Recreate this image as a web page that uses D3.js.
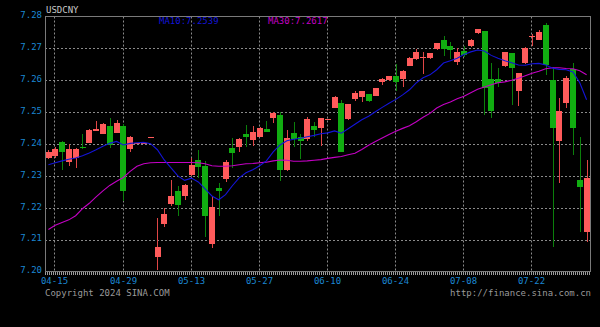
<!DOCTYPE html>
<html>
<head>
<meta charset="utf-8">
<script src="https://cdn.jsdelivr.net/npm/d3@7"></script>
<style>
  html, body { margin: 0; padding: 0; background: #000; }
  svg { display: block; }
  text { font-family: "DejaVu Sans Mono", "Liberation Mono", monospace; font-size: 9px; }
</style>
</head>
<body>
<div id="chart"></div>
<script>
// trading days shown (one candle each)
const dates = [
  "04-12",
  "04-15","04-16","04-17","04-18","04-19",
  "04-22","04-23","04-24","04-25","04-26",
  "04-29","04-30","05-01","05-02","05-03",
  "05-06","05-07","05-08","05-09","05-10",
  "05-13","05-14","05-15","05-16","05-17",
  "05-20","05-21","05-22","05-23","05-24",
  "05-27","05-28","05-29","05-30","05-31",
  "06-03","06-04","06-05","06-06","06-07",
  "06-10","06-11","06-12","06-13","06-14",
  "06-17","06-18","06-19","06-20","06-21",
  "06-24","06-25","06-26","06-27","06-28",
  "07-01","07-02","07-03","07-04","07-05",
  "07-08","07-09","07-10","07-11","07-12",
  "07-15","07-16","07-17","07-18","07-19",
  "07-22","07-23","07-24","07-25","07-26",
  "07-29","07-30","07-31","08-01"
];

const openP = [
  7.2355,
  7.2361,7.2406,7.2342,7.2356,7.2391,
  7.2403,7.2441,7.2432,7.2455,7.2436,
  7.2457,7.2384,7.2403,7.2403,7.2422,
  7.2047,7.2150,7.2211,7.2251,7.2237,
  7.2303,7.2350,7.2332,7.2087,7.2262,
  7.2290,7.2389,7.2390,7.2432,7.2413,
  7.2423,7.2447,7.2481,7.2492,7.2317,
  7.2436,7.2422,7.2416,7.2457,7.2450,
  7.2479,7.2514,7.2528,7.2479,7.2542,
  7.2546,7.2556,7.2552,7.2594,7.2601,
  7.2614,7.2604,7.2646,7.2667,7.2669,
  7.2670,7.2698,7.2727,7.2708,7.2656,
  7.2692,7.2706,7.2748,7.2753,7.2603,
  7.2603,7.2645,7.2685,7.2565,7.2654,
  7.2736,7.2727,7.2774,7.2601,7.2408,
  7.2528,7.2635,7.2288,7.2125
];
const highP = [
  7.2380,
  7.2390,7.2408,7.2400,7.2388,7.2431,
  7.2446,7.2473,7.2467,7.2481,7.2474,
  7.2462,7.2424,7.2403,7.2403,7.2422,
  7.2167,7.2199,7.2288,7.2269,7.2274,
  7.2356,7.2380,7.2347,7.2237,7.2277,
  7.2350,7.2418,7.2418,7.2460,7.2457,
  7.2452,7.2473,7.2499,7.2499,7.2444,
  7.2470,7.2430,7.2484,7.2470,7.2483,
  7.2479,7.2551,7.2539,7.2527,7.2565,
  7.2567,7.2558,7.2577,7.2608,7.2614,
  7.2651,7.2632,7.2673,7.2698,7.2690,
  7.2686,7.2718,7.2740,7.2721,7.2701,
  7.2706,7.2729,7.2762,7.2755,7.2654,
  7.2638,7.2690,7.2687,7.2624,7.2703,
  7.2745,7.2758,7.2779,7.2643,7.2544,
  7.2612,7.2654,7.2423,7.2350
];
const lowP = [
  7.2352,
  7.2355,7.2319,7.2332,7.2324,7.2384,
  7.2402,7.2440,7.2430,7.2388,7.2435,
  7.2220,7.2376,7.2403,7.2403,7.2422,
  7.2005,7.2139,7.2207,7.2175,7.2223,
  7.2300,7.2293,7.2108,7.2073,7.2175,
  7.2282,7.2324,7.2376,7.2392,7.2394,
  7.2422,7.2439,7.2467,7.2285,7.2315,
  7.2392,7.2353,7.2408,7.2422,7.2394,
  7.2479,7.2512,7.2374,7.2476,7.2535,
  7.2533,7.2533,7.2550,7.2586,7.2599,
  7.2567,7.2580,7.2644,7.2665,7.2619,
  7.2668,7.2696,7.2677,7.2666,7.2648,
  7.2674,7.2704,7.2746,7.2492,7.2481,
  7.2580,7.2643,7.2523,7.2518,7.2652,
  7.2708,7.2725,7.2617,7.2078,7.2277,
  7.2513,7.2366,7.2125,7.2094
];
const closeP = [
  7.2376,
  7.2385,7.2376,7.2384,7.2384,7.2388,
  7.2444,7.2447,7.2462,7.2397,7.2465,
  7.2251,7.2422,7.2403,7.2403,7.2422,
  7.2078,7.2181,7.2237,7.2209,7.2272,
  7.2335,7.2329,7.2175,7.2201,7.2251,
  7.2342,7.2373,7.2416,7.2422,7.2437,
  7.2450,7.2439,7.2497,7.2317,7.2418,
  7.2415,7.2408,7.2478,7.2444,7.2481,
  7.2479,7.2549,7.2376,7.2525,7.2560,
  7.2565,7.2535,7.2575,7.2604,7.2612,
  7.2594,7.2630,7.2671,7.2690,7.2674,
  7.2684,7.2716,7.2698,7.2695,7.2688,
  7.2680,7.2727,7.2760,7.2575,7.2502,
  7.2591,7.2688,7.2638,7.2622,7.2701,
  7.2740,7.2750,7.2648,7.2450,7.2502,
  7.2607,7.2450,7.2265,7.2293
];

// moving averages as drawn on the chart
const ma10 = [
  7.2335,
  7.2341,7.2347,7.2352,7.2356,7.2363,
  7.2372,7.2382,7.2393,7.2402,7.2408,
  7.2397,7.2402,7.2404,7.2405,7.2401,
  7.2382,7.2350,7.2325,7.2300,7.2286,
  7.2293,7.2281,7.2259,7.2237,7.2225,
  7.2241,7.2269,7.2294,7.2310,7.2319,
  7.2332,7.2347,7.2375,7.2397,7.2410,
  7.2415,7.2418,7.2423,7.2427,7.2432,
  7.2435,7.2441,7.2434,7.2448,7.2462,
  7.2476,7.2487,7.2501,7.2515,7.2528,
  7.2540,7.2554,7.2570,7.2592,7.2608,
  7.2617,7.2633,7.2654,7.2661,7.2669,
  7.2681,7.2689,7.2695,7.2692,7.2678,
  7.2669,7.2661,7.2655,7.2648,7.2647,
  7.2652,7.2653,7.2648,7.2638,7.2634,
  7.2633,7.2626,7.2592,7.2539
];
const ma30 = [
  7.2132,
  7.2145,7.2154,7.2162,7.2175,7.2197,
  7.2214,7.2234,7.2253,7.2270,7.2283,
  7.2295,7.2314,7.2330,7.2338,7.2341,
  7.2342,7.2342,7.2342,7.2342,7.2342,
  7.2342,7.2341,7.2338,7.2332,7.2330,
  7.2330,7.2332,7.2335,7.2338,7.2339,
  7.2341,7.2343,7.2347,7.2350,7.2349,
  7.2346,7.2346,7.2347,7.2349,7.2351,
  7.2355,7.2358,7.2361,7.2366,7.2371,
  7.2383,7.2396,7.2408,7.2419,7.2430,
  7.2440,7.2449,7.2457,7.2470,7.2484,
  7.2496,7.2513,7.2524,7.2532,7.2542,
  7.2550,7.2561,7.2572,7.2579,7.2586,
  7.2592,7.2595,7.2600,7.2606,7.2614,
  7.2622,7.2628,7.2636,7.2639,7.2639,
  7.2637,7.2636,7.2630,7.2617
];

const priceTicks = [7.20, 7.21, 7.22, 7.23, 7.24, 7.25, 7.26, 7.27, 7.28];
const dateTicks = ["04-15", "04-29", "05-13", "05-27", "06-10", "06-24", "07-08", "07-22"];

const symbol = "USDCNY";
const copyright = "Copyright 2024 SINA.COM";
const siteUrl = "http://finance.sina.com.cn";

const width = 600, height = 327;
const margin = { top: 16.5, right: 10, bottom: 55.5, left: 45 };

const upColor = "#ff5b5b", upWick = "#e04646";
const downColor = "#11ad11", downWick = "#0b7f0b";
const axisText = "#1b87d2";
const gridColor = "#8a8a8a";

const candles = dates.map((d, i) => ({
  date: d, open: openP[i], high: highP[i], low: lowP[i], close: closeP[i]
}));

const svg = d3.select("#chart").append("svg")
  .attr("width", width)
  .attr("height", height)
  .style("background", "#000");

const x = d3.scaleBand()
  .domain(dates)
  .range([margin.left, width - margin.right])
  .paddingInner(0.16)
  .paddingOuter(0.08);

const y = d3.scaleLinear()
  .domain([7.20, 7.28])
  .range([height - margin.bottom, margin.top]);

const cx = d => Math.round(x(d) + x.bandwidth() / 2) + 0.5;
const gridX = d => Math.round(x(d) + x.bandwidth() * 0.37) + 0.5;

// grid
svg.append("g")
  .selectAll("line")
  .data(priceTicks.slice(1, -1))
  .join("line")
  .attr("x1", margin.left).attr("x2", width - margin.right)
  .attr("y1", d => Math.round(y(d)) + 0.5).attr("y2", d => Math.round(y(d)) + 0.5)
  .attr("stroke", gridColor)
  .attr("stroke-dasharray", "2,2");

svg.append("g")
  .selectAll("line")
  .data(dateTicks)
  .join("line")
  .attr("x1", gridX).attr("x2", gridX)
  .attr("y1", margin.top).attr("y2", height - margin.bottom)
  .attr("stroke", gridColor)
  .attr("stroke-dasharray", "2,2");

// frame
svg.append("rect")
  .attr("x", margin.left + 0.5)
  .attr("y", margin.top)
  .attr("width", width - margin.left - margin.right)
  .attr("height", height - margin.top - margin.bottom)
  .attr("fill", "none")
  .attr("stroke", "#7a7a7a");

// ruler under the bottom edge
svg.append("line")
  .attr("x1", margin.left).attr("x2", width - margin.right)
  .attr("y1", height - margin.bottom + 2).attr("y2", height - margin.bottom + 2)
  .attr("stroke", "#9a9a9a")
  .attr("stroke-width", 3)
  .attr("stroke-dasharray", "1,1");

// candles
const g = svg.append("g").attr("shape-rendering", "crispEdges");

g.selectAll("line.wick")
  .data(candles)
  .join("line")
  .attr("class", "wick")
  .attr("x1", d => cx(d.date)).attr("x2", d => cx(d.date))
  .attr("y1", d => y(d.high)).attr("y2", d => y(d.low))
  .attr("stroke", d => d.close >= d.open ? upWick : downWick);

g.selectAll("rect.body")
  .data(candles)
  .join("rect")
  .attr("class", "body")
  .attr("x", d => Math.round(x(d.date)))
  .attr("width", Math.round(x.bandwidth()))
  .attr("y", d => y(Math.max(d.open, d.close)))
  .attr("height", d => Math.max(1, y(Math.min(d.open, d.close)) - y(Math.max(d.open, d.close))))
  .attr("fill", d => d.close >= d.open ? upColor : downColor);

// moving averages
const line = d3.line()
  .x((d, i) => x(dates[i]) + x.bandwidth() / 2)
  .y(d => y(d));

svg.append("path")
  .datum(ma30)
  .attr("d", line)
  .attr("fill", "none")
  .attr("stroke", "#c400c4")
  .attr("stroke-width", 1.1);

svg.append("path")
  .datum(ma10)
  .attr("d", line)
  .attr("fill", "none")
  .attr("stroke", "#1414d8")
  .attr("stroke-width", 1.1);

// axis labels
svg.append("g")
  .selectAll("text")
  .data(priceTicks)
  .join("text")
  .attr("x", margin.left - 3)
  .attr("y", d => y(d) + 1.8)
  .attr("text-anchor", "end")
  .attr("fill", axisText)
  .text(d => d.toFixed(2));

svg.append("g")
  .selectAll("text")
  .data(dateTicks)
  .join("text")
  .attr("x", gridX)
  .attr("y", height - margin.bottom + 12.5)
  .attr("text-anchor", "middle")
  .attr("fill", axisText)
  .text(d => d);

// title and legend
svg.append("text")
  .attr("x", margin.left + 1)
  .attr("y", 13)
  .attr("fill", "#c8c8c8")
  .text(symbol);

svg.append("text")
  .attr("x", 159)
  .attr("y", 24)
  .attr("fill", "#1414d8")
  .text("MA10:" + ma10[ma10.length - 1].toFixed(4));

svg.append("text")
  .attr("x", 268)
  .attr("y", 24)
  .attr("fill", "#c400c4")
  .text("MA30:" + ma30[ma30.length - 1].toFixed(4));

// footer
svg.append("text")
  .attr("x", 45)
  .attr("y", 296)
  .attr("fill", "#9a9a9a")
  .text(copyright);

svg.append("text")
  .attr("x", width - 9)
  .attr("y", 296)
  .attr("text-anchor", "end")
  .attr("fill", "#9a9a9a")
  .text(siteUrl);
</script>
</body>
</html>
